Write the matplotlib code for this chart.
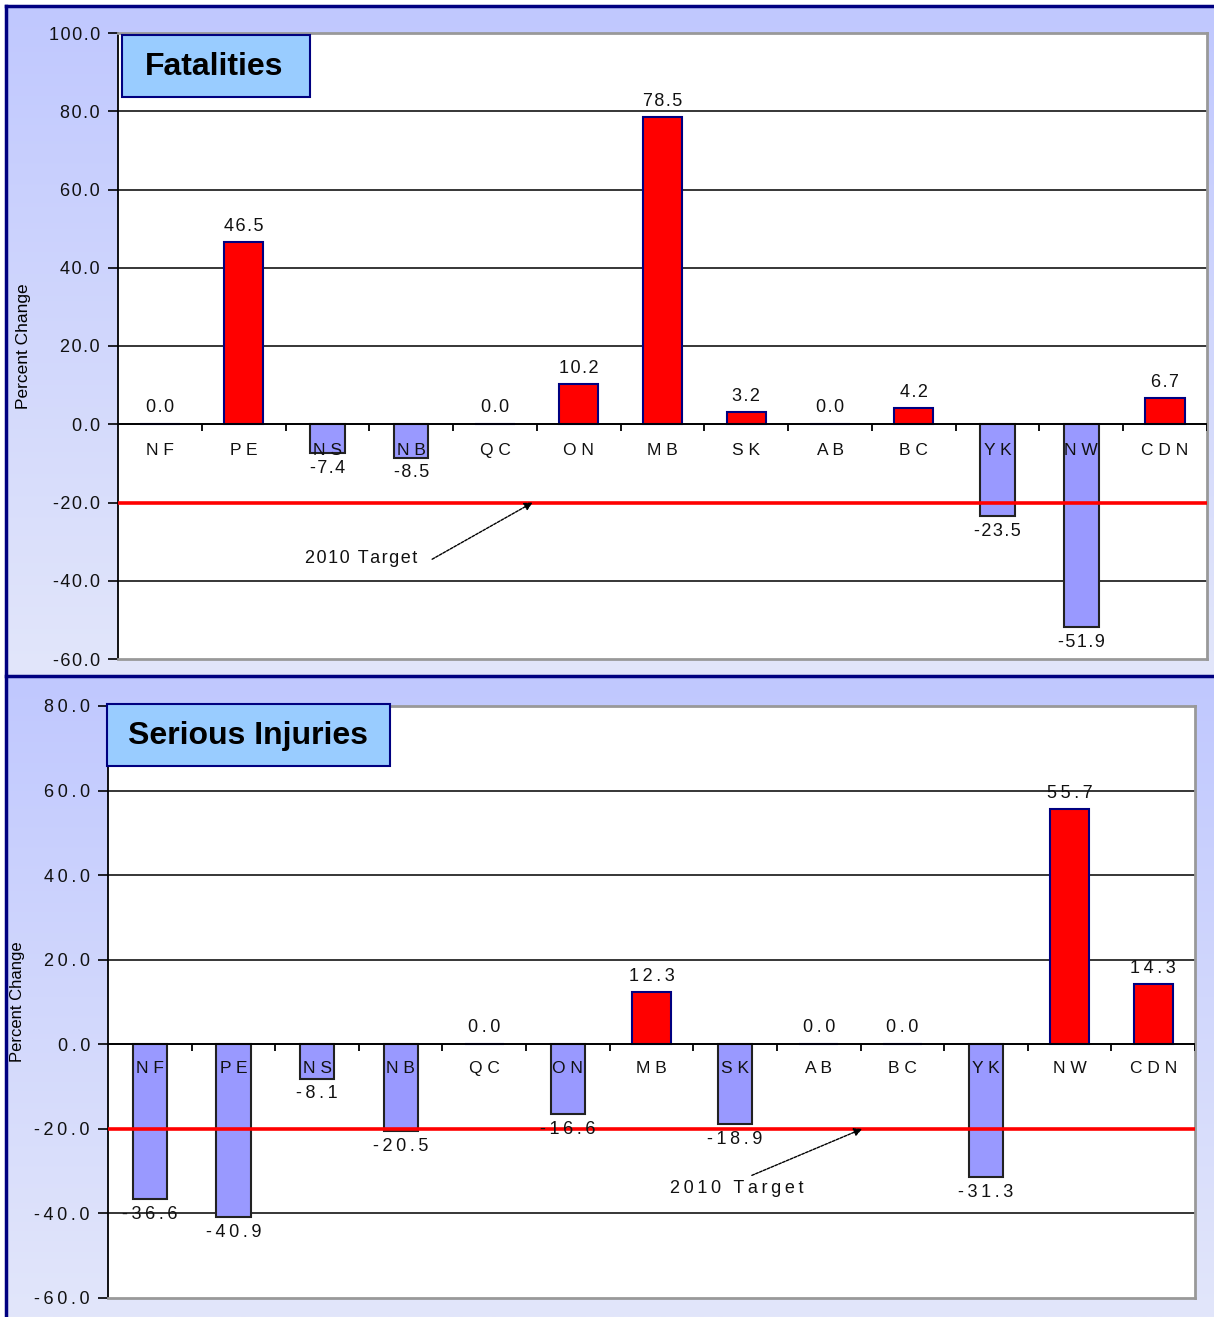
import numpy as np
import matplotlib
matplotlib.use('Agg')
import matplotlib.pyplot as plt
from matplotlib.colors import LinearSegmentedColormap
from matplotlib.patches import Rectangle

plt.rcParams['font.family'] = ['Liberation Sans', 'DejaVu Sans']

provinces = ['NF', 'PE', 'NS', 'NB', 'QC', 'ON', 'MB', 'SK', 'AB', 'BC', 'YK', 'NW', 'CDN']
fatalities = [0.0, 46.5, -7.4, -8.5, 0.0, 10.2, 78.5, 3.2, 0.0, 4.2, -23.5, -51.9, 6.7]
injuries = [-36.6, -40.9, -8.1, -20.5, 0.0, -16.6, 12.3, -18.9, 0.0, 0.0, -31.3, 55.7, 14.3]
target = -20.0

W, H = 1214, 1317
fig = plt.figure(figsize=(W / 100, H / 100), dpi=100)

# panel backgrounds (vertical gradient) drawn on a full-figure axes
bg = fig.add_axes([0, 0, 1, 1])
bg.set_xlim(0, W)
bg.set_ylim(H, 0)
bg.axis('off')
cmap = LinearSegmentedColormap.from_list('panel', ['#c0c8ff', '#e2e6fa'])
grad = np.linspace(0, 1, 256).reshape(-1, 1)
bg.imshow(grad, cmap=cmap, aspect='auto', extent=[6, W, 675, 6])
bg.imshow(grad, cmap=cmap, aspect='auto', extent=[6, W, H, 677])
bg.plot([6, W], [6, 6], color='#000080', lw=2.5)
bg.plot([6, 6], [6, H], color='#000080', lw=2.5)
bg.plot([6, W], [676, 676], color='#000080', lw=2.5)


def px_axes(x0, x1, y0, y1):
    return fig.add_axes([x0 / W, 1 - y1 / H, (x1 - x0) / W, (y1 - y0) / H])


def spaced(s, sep):
    return sep.join(s) if sep else s


def draw_panel(ax, values, ymin, ymax, step, sep, arrow_xy, text_xy, tail_xy, lab_y):
    n = len(values)
    x = np.arange(n)
    vals = np.array(values)
    ax.set_facecolor('white')
    ax.set_xlim(-0.5, n - 0.5)
    ax.set_ylim(ymin, ymax)

    ticks = np.arange(ymin, ymax + 0.1, step)
    ax.set_yticks(ticks)
    ax.set_yticklabels([spaced(f'{t:.1f}', sep) for t in ticks], fontsize=13, color='#111111')
    ax.tick_params(axis='y', direction='out', length=7, width=1.2, color='black', pad=6)
    ax.set_xticks([])
    for t in ticks:
        if ymin < t < ymax and t != target:
            ax.axhline(t, color='black', lw=1.1, zorder=1)

    for side in ['top', 'right', 'bottom']:
        ax.spines[side].set_color('#999999')
        ax.spines[side].set_linewidth(2)
    ax.spines['left'].set_color('black')
    ax.spines['left'].set_linewidth(1.3)

    pos = vals >= 0
    ax.bar(x[pos], vals[pos], width=0.47, color='#ff0000', edgecolor='#000080', lw=1.5, zorder=2)
    ax.bar(x[~pos], vals[~pos], width=0.41, color='#9999ff', edgecolor='#222222', lw=1.5, zorder=2)

    ax.axhline(0, color='black', lw=1.3, zorder=3)
    tick_len = (ymax - ymin) * 0.011
    ax.vlines(np.arange(0.5, n, 1), -tick_len, 0, color='black', lw=1.3, zorder=3)

    ax.axhline(target, color='#ff0000', lw=2.6, zorder=4)

    for xi, v, name in zip(x, vals, provinces):
        ax.text(xi, lab_y, ' '.join(name), ha='center', va='center', fontsize=12.5,
                color='#111111', zorder=5)
        label = spaced(f'{v:.1f}', sep)
        if v > 0:
            ax.annotate(label, (xi, v), xytext=(0, 5), textcoords='offset points',
                        ha='center', va='bottom', fontsize=13, color='#111111', zorder=5)
        elif v == 0:
            ax.annotate(label, (xi, v), xytext=(0, 6), textcoords='offset points',
                        ha='center', va='bottom', fontsize=13, color='#111111', zorder=5)
        else:
            ax.annotate(label, (xi, v), xytext=(0, -5), textcoords='offset points',
                        ha='center', va='top', fontsize=13, color='#111111', zorder=5)

    ax.annotate('', xy=arrow_xy, xytext=tail_xy,
                arrowprops=dict(arrowstyle='-|>', color='black', lw=1, ls=(0, (2, 1)),
                                mutation_scale=12, shrinkA=0, shrinkB=0), zorder=5)
    ax.text(text_xy[0], text_xy[1], spaced('2010 Target', sep),
            ha='center', va='center', fontsize=13, color='#111111', zorder=5)


ax1 = px_axes(118, 1207, 33, 659)
draw_panel(ax1, fatalities, -60, 100, 20, '\u200a',
           arrow_xy=(4.45, target), text_xy=(2.4, -34.2), tail_xy=(3.25, -34.5), lab_y=-6.6)
ax1.set_ylabel('Percent Change', fontsize=12.5)
ax1.yaxis.set_label_coords(-0.08, 0.5)

ax2 = px_axes(108, 1195, 706, 1298)
draw_panel(ax2, injuries, -60, 80, 20, '\u2009',
           arrow_xy=(8.52, target), text_xy=(7.02, -34.0), tail_xy=(7.2, -31.0), lab_y=-5.8)
ax2.set_ylabel('Percent Change', fontsize=12)
ax2.yaxis.set_label_coords(-0.076, 0.5)

# title boxes on a transparent overlay (pixel coords)
top = fig.add_axes([0, 0, 1, 1], zorder=10)
top.set_xlim(0, W)
top.set_ylim(H, 0)
top.axis('off')
top.patch.set_alpha(0)
for (x0, y0, x1, y1), tx, title in [((122, 35, 310, 97), 145, 'Fatalities'),
                                     ((107, 704, 390, 766), 128, 'Serious Injuries')]:
    top.add_patch(Rectangle((x0, y0), x1 - x0, y1 - y0, facecolor='#99ccff',
                            edgecolor='#000080', lw=1.5))
    top.text(tx, (y0 + y1) / 2 + 1, title, ha='left', va='center', fontsize=23,
             fontweight='bold', color='black')

fig.savefig('out.png', dpi=100)
